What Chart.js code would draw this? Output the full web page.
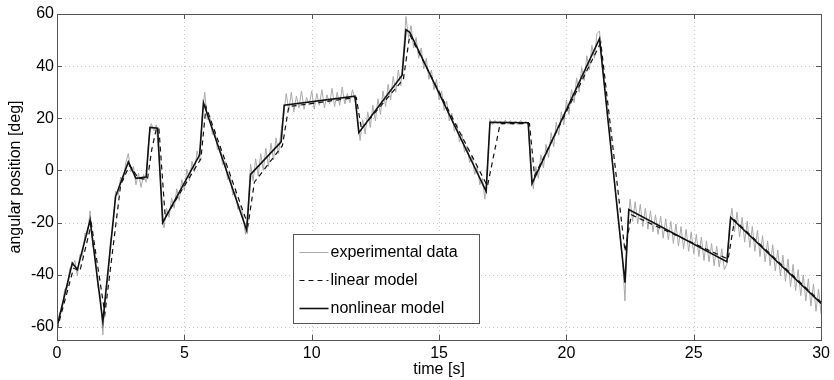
<!DOCTYPE html>
<html>
<head>
<meta charset="utf-8">
<script src="https://cdn.jsdelivr.net/npm/chart.js@4.4.1/dist/chart.umd.min.js"></script>
<style>
  html, body { margin: 0; padding: 0; background: #fff; }
  #wrap { width: 834px; height: 380px; }
</style>
</head>
<body>
<div id="wrap"><canvas id="chart" width="834" height="380"></canvas></div>
<script>
// tick labels
const xTicks = [0, 5, 10, 15, 20, 25, 30];
const yTicks = [-60, -40, -20, 0, 20, 40, 60];

// experimental data, one sample every 0.1 s, one row per second
const expStep = 0.1;
const expAngle = [
  -60.5, -54.5, -53.5, -45.5, -45.2, -37.5, -36.8, -34.5, -40.5, -32.2,
  -32.8, -24.0, -24.5, -15.5, -28.5, -32.5, -44.5, -48.0, -63.0, -46.5,
  -40.5, -27.0, -21.5, -8.0, -9.5, -2.5, -4.0, 3.0, 6.5, -0.5,
  1.5, -5.5, -1.0, -6.5, -1.5, -4.5, 12.0, 18.0, 15.2, 17.5,
  5.0, -9.5, -22.0, -14.5, -18.0, -10.5, -14.5, -7.0, -11.5, -3.5,
  -7.5, 0.5, -4.0, 3.5, -0.5, 7.5, 3.5, 21.0, 30.0, 19.5,
  21.0, 13.8, 15.2, 8.0, 9.5, 2.2, 3.5, -3.5, -2.0, -9.5,
  -8.0, -15.0, -13.5, -17.0, -24.5, -14.0, 2.5, -4.0, 4.5, -2.0,
  6.5, 0.0, 8.5, 1.5, 10.5, 4.0, 12.5, 6.5, 15.5, 21.0,
  29.5, 23.0, 30.0, 22.5, 28.5, 24.0, 30.5, 23.5, 28.0, 25.0,
  30.5, 23.5, 29.5, 25.0, 31.0, 24.0, 29.0, 25.5, 31.5, 24.5,
  30.0, 25.0, 32.0, 25.5, 29.5, 26.0, 31.0, 27.0, 20.0, 11.5,
  19.5, 14.0, 22.5, 16.5, 25.0, 19.0, 27.5, 21.5, 30.5, 24.5,
  33.0, 27.0, 36.0, 30.0, 38.5, 32.5, 45.0, 59.0, 51.0, 55.5,
  47.0, 51.0, 43.0, 47.0, 39.0, 43.0, 35.0, 38.5, 31.0, 35.0,
  27.0, 30.5, 23.0, 26.5, 19.0, 22.0, 15.0, 18.0, 11.0, 14.0,
  7.0, 9.5, 3.0, 5.5, -1.5, 1.5, -5.5, -3.0, -11.0, 2.0,
  19.5, 17.5, 19.2, 17.8, 19.0, 17.6, 19.3, 17.7, 19.1, 17.5,
  19.0, 17.6, 19.2, 17.8, 18.9, 17.5, 1.0, -7.0, 1.5, -3.0,
  6.0, 1.0, 10.0, 5.0, 14.5, 9.0, 18.5, 13.5, 22.5, 17.5,
  27.0, 21.5, 31.0, 26.0, 35.5, 30.0, 39.5, 34.5, 44.0, 38.5,
  48.0, 43.0, 52.5, 53.5, 41.0, 32.0, 22.0, 13.5, 3.5, -5.5,
  -15.0, -24.5, -34.0, -50.0, -22.0, -11.0, -19.5, -12.0, -20.5, -13.0,
  -21.5, -14.5, -22.5, -15.5, -23.5, -17.0, -24.5, -17.5, -26.0, -18.5,
  -26.5, -19.5, -28.0, -20.5, -29.0, -21.5, -30.0, -22.5, -31.0, -23.5,
  -32.0, -24.5, -33.0, -25.5, -34.5, -27.0, -35.0, -28.0, -36.5, -29.0,
  -37.0, -30.0, -38.0, -36.0, -21.0, -14.5, -23.5, -16.0, -25.5, -18.0,
  -27.5, -19.5, -29.5, -21.5, -31.0, -23.0, -33.0, -25.0, -35.0, -27.0,
  -36.5, -28.5, -38.5, -30.5, -40.5, -32.5, -42.5, -34.0, -44.5, -36.0,
  -46.0, -38.0, -48.0, -40.0, -50.0, -41.5, -52.0, -43.5, -54.0, -45.5,
  -55.0
];

// linear model (dashed)
const linTime  = [0, 0.65, 0.9, 1.35, 1.88, 2.5, 2.85, 3.2, 3.55, 3.72, 3.9, 4.0, 4.25, 5.65, 5.85, 7.5, 7.75, 8.85, 9.1, 11.75, 11.95, 13.6, 13.85, 16.9, 17.4, 18.55, 18.75, 21.35, 22.3, 22.55, 26.35, 26.6, 30];
const linAngle = [-61, -37.5, -38.5, -20.5, -55, -5.5, 2, -3, -3.5, 8, 16, 16.3, -18, 4.5, 24.5, -21, -4.5, 9.5, 24.5, 28, 16, 35, 52, -6, 18, 18, -2, 49, -31, -17, -34, -19, -50.5];

// nonlinear model (solid)
const nonlinTime  = [0, 0.6, 0.8, 1.3, 1.8, 2.3, 2.8, 3.1, 3.5, 3.65, 3.95, 4.15, 5.6, 5.75, 7.45, 7.6, 8.8, 8.92, 11.7, 11.85, 13.55, 13.7, 13.85, 16.85, 17.0, 18.5, 18.65, 21.3, 22.3, 22.45, 26.3, 26.45, 30];
const nonlinAngle = [-60, -35.5, -38, -19, -58, -10, 3.3, -3, -2.5, 16.5, 16.2, -20, 6, 26, -23, -1.5, 11, 25, 28.5, 14.5, 36.5, 54, 53, -8, 18.5, 18.3, -5, 50.5, -43, -15, -35, -18, -51];

const FONT = '"Liberation Sans", Arial, Helvetica, sans-serif';
const frameColor = '#555';

const toPts = (xs, ys) => ys.map((y, i) => ({ x: xs[i], y }));
const expPts = expAngle.map((y, i) => ({ x: +(i * expStep).toFixed(1), y }));

// grid, box and inward ticks like the matlab axes
const framePlugin = {
  id: 'frame',
  beforeDatasetsDraw(chart) {
    const { ctx, chartArea: a, scales: { x, y } } = chart;
    ctx.save();
    ctx.lineWidth = 1;
    ctx.strokeStyle = '#c4c4c4';
    ctx.setLineDash([1, 3]);
    xTicks.forEach(v => {
      const px = Math.round(x.getPixelForValue(v)) + 0.5;
      ctx.beginPath(); ctx.moveTo(px, a.top); ctx.lineTo(px, a.bottom); ctx.stroke();
    });
    yTicks.forEach(v => {
      const py = Math.round(y.getPixelForValue(v)) + 0.5;
      ctx.beginPath(); ctx.moveTo(a.left, py); ctx.lineTo(a.right, py); ctx.stroke();
    });
    ctx.restore();
  },
  afterDatasetsDraw(chart) {
    const { ctx, chartArea: a, scales: { x, y } } = chart;
    const len = 5;
    ctx.save();
    ctx.lineWidth = 1;
    ctx.strokeStyle = frameColor;
    ctx.setLineDash([]);
    xTicks.forEach(v => {
      const px = Math.round(x.getPixelForValue(v)) + 0.5;
      ctx.beginPath();
      ctx.moveTo(px, a.bottom); ctx.lineTo(px, a.bottom - len);
      ctx.moveTo(px, a.top); ctx.lineTo(px, a.top + len);
      ctx.stroke();
    });
    yTicks.forEach(v => {
      const py = Math.round(y.getPixelForValue(v)) + 0.5;
      ctx.beginPath();
      ctx.moveTo(a.left, py); ctx.lineTo(a.left + len, py);
      ctx.moveTo(a.right, py); ctx.lineTo(a.right - len, py);
      ctx.stroke();
    });
    ctx.strokeRect(Math.round(a.left) + 0.5, Math.round(a.top) + 0.5,
      Math.round(a.right - a.left), Math.round(a.bottom - a.top));
    ctx.restore();
  }
};

// legend box inside the plot
const boxLegend = {
  id: 'boxLegend',
  afterDraw(chart) {
    const { ctx, chartArea: a } = chart;
    const bx = Math.round(a.left + (a.right - a.left) * 0.309) + 0.5;
    const by = Math.round(a.top + (a.bottom - a.top) * 0.675) + 0.5;
    const bw = 186, bh = 89, rowH = 28.4;
    ctx.save();
    ctx.fillStyle = '#fff';
    ctx.fillRect(bx, by, bw, bh);
    ctx.lineWidth = 1;
    ctx.strokeStyle = frameColor;
    ctx.strokeRect(bx, by, bw, bh);
    ctx.font = '16px ' + FONT;
    ctx.fillStyle = '#000';
    ctx.textBaseline = 'middle';
    const order = [2, 1, 0];
    order.forEach((di, r) => {
      const ds = chart.data.datasets[di];
      const cy = Math.round(by + 17 + r * rowH) + 0.5;
      ctx.strokeStyle = ds.borderColor;
      ctx.lineWidth = ds.borderWidth;
      ctx.setLineDash(ds.borderDash || []);
      ctx.beginPath(); ctx.moveTo(bx + 6, cy); ctx.lineTo(bx + 35, cy); ctx.stroke();
      ctx.fillText(ds.label, bx + 37, cy);
    });
    ctx.restore();
  }
};

new Chart(document.getElementById('chart'), {
  type: 'line',
  data: {
    datasets: [
      { label: 'nonlinear model', data: toPts(nonlinTime, nonlinAngle), borderColor: '#111', borderWidth: 1.6, order: 1 },
      { label: 'linear model', data: toPts(linTime, linAngle), borderColor: '#111', borderWidth: 1.2, borderDash: [5, 4], order: 2 },
      { label: 'experimental data', data: expPts, borderColor: '#a9a9a9', borderWidth: 1, order: 3 }
    ]
  },
  options: {
    responsive: false,
    animation: false,
    events: [],
    elements: { point: { radius: 0 }, line: { tension: 0 } },
    layout: { padding: { top: 14, right: 11, left: 0, bottom: 0 } },
    plugins: { legend: { display: false }, tooltip: { enabled: false } },
    scales: {
      x: {
        type: 'linear', min: 0, max: 30,
        afterBuildTicks: s => { s.ticks = xTicks.map(v => ({ value: v })); },
        afterFit: s => { s.height = 40; },
        grid: { display: false, drawTicks: false },
        border: { display: false },
        ticks: { color: '#000', font: { family: FONT, size: 16 }, padding: 4, maxRotation: 0 },
        title: { display: true, text: 'time [s]', color: '#000', font: { family: FONT, size: 16 }, padding: { top: 0, bottom: 1 } }
      },
      y: {
        type: 'linear', min: -65, max: 60,
        afterBuildTicks: s => { s.ticks = yTicks.map(v => ({ value: v })); },
        afterFit: s => { s.width = 57; },
        grid: { display: false, drawTicks: false },
        border: { display: false },
        ticks: { color: '#000', font: { family: FONT, size: 16 }, padding: 3 },
        title: { display: true, text: 'angular position [deg]', color: '#000', font: { family: FONT, size: 16 }, padding: { top: 6, bottom: 0 } }
      }
    }
  },
  plugins: [framePlugin, boxLegend]
});
</script>
</body>
</html>
